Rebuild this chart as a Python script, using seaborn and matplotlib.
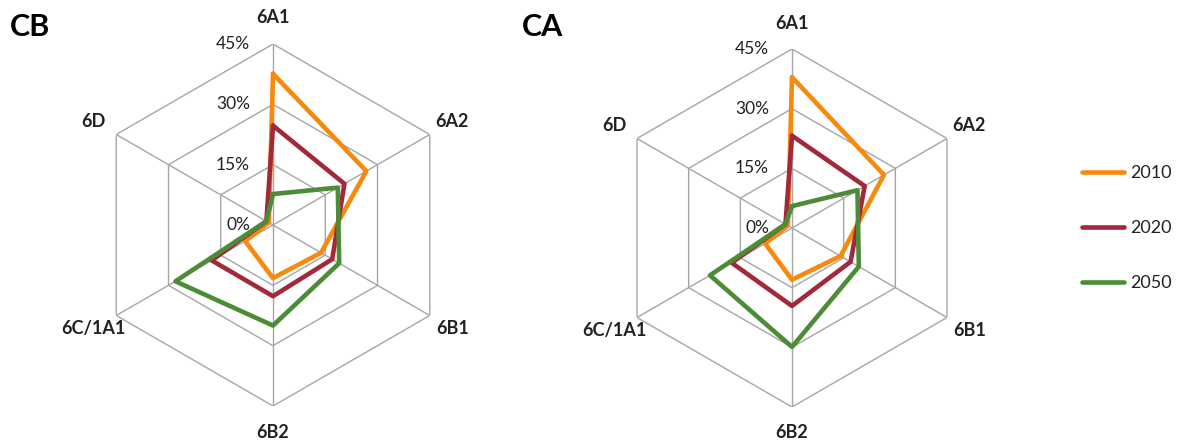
import numpy as np
import pandas as pd
import matplotlib
matplotlib.use('Agg')
import matplotlib.pyplot as plt
import matplotlib.transforms as mtransforms
import seaborn as sns

# ---------------- data ----------------
categories = ['6A1', '6A2', '6B1', '6B2', '6C/1A1', '6D']
years = ['2010', '2020', '2050']
cb_2010 = [37.6, 26.8, 13.8, 13.2, 8.0, 1.2]
cb_2020 = [24.7, 20.5, 17.0, 17.7, 17.6, 1.9]
cb_2050 = [7.7, 18.6, 19.0, 25.0, 28.0, 1.9]
ca_2010 = [37.9, 26.7, 14.1, 13.0, 7.8, 1.2]
ca_2020 = [23.2, 21.1, 17.0, 19.6, 17.5, 1.9]
ca_2050 = [5.5, 19.0, 19.4, 29.9, 23.8, 1.9]
r_ticks = [0, 15, 30, 45]
r_tick_labels = ['0%', '15%', '30%', '45%']
panel_titles = ['CB', 'CA']
colors = ['#F7890C', '#A3283A', '#4C8C37']

sns.set_theme(style='white')
plt.rcParams['font.family'] = ['Lato', 'DejaVu Sans']

fig = plt.figure(figsize=(11.8, 4.41), dpi=100)

n = len(categories)
angles = [2 * np.pi * i / n for i in range(n)]
angles_closed = angles + [2 * np.pi]


def make_df(series_list):
    rows = []
    for year, vals in zip(years, series_list):
        vals_closed = list(vals) + [vals[0]]
        for i, (a, v) in enumerate(zip(angles_closed, vals_closed)):
            rows.append({'year': year, 'theta': a, 'value': v, 'order': i})
    return pd.DataFrame(rows)


panels = [
    ([cb_2010, cb_2020, cb_2050], [92 / 1180, 35 / 441, 362 / 1180, 362 / 441], 10 / 1180),
    ([ca_2010, ca_2020, ca_2050], [613 / 1180, 34 / 441, 358 / 1180, 358 / 441], 522 / 1180),
]

grid_color = '#A6A6A6'
text_color = '#222222'
handles = labels = None

for idx, (series, rect, title_x) in enumerate(panels):
    ax = fig.add_axes(rect, projection='polar')
    ax.set_theta_offset(np.pi / 2)
    ax.set_theta_direction(-1)
    ax.grid(False)
    ax.spines['polar'].set_visible(False)

    # hexagonal grid rings
    for lvl in r_ticks[1:]:
        ax.plot(angles_closed, [lvl] * len(angles_closed), color=grid_color, lw=1.0, zorder=1)
    # spokes
    for a in angles:
        ax.plot([a, a], [0, r_ticks[-1]], color=grid_color, lw=1.0, zorder=1)

    df = make_df(series)
    sns.lineplot(data=df, x='theta', y='value', hue='year', hue_order=years,
                 palette=colors, sort=False, estimator=None, units='year',
                 linewidth=3.3, ax=ax, legend=(idx == 0), zorder=3)
    if idx == 0:
        handles, labels = ax.get_legend_handles_labels()
        ax.get_legend().remove()

    ax.set_ylim(0, r_ticks[-1])
    ax.set_xticks([])
    ax.set_yticks([])
    ax.set_xlabel('')
    ax.set_ylabel('')

    # radial tick labels
    off = mtransforms.offset_copy(ax.transData, fig=fig, x=-23, y=0, units='dots')
    for lvl, lab in zip(r_ticks, r_tick_labels):
        ax.text(0, lvl, lab, transform=off, ha='right', va='center',
                fontsize=12.5, color=text_color, clip_on=False)

    # category labels
    for a, cat in zip(angles, categories):
        ax.text(a, 51.5, cat, ha='center', va='center', fontsize=13,
                fontweight='bold', color=text_color, clip_on=False)

    fig.text(title_x, 1 - 27 / 441, panel_titles[idx], fontsize=22,
             fontweight='bold', ha='left', va='center', color='black')

leg = fig.legend(handles, labels, loc='center left',
                 bbox_to_anchor=(1082 / 1180, 1 - 228 / 441),
                 frameon=False, fontsize=13, handlelength=2.35,
                 handletextpad=0.3, labelspacing=2.15,
                 borderpad=0, borderaxespad=0)
for t in leg.get_texts():
    t.set_color(text_color)

fig.savefig('out.png', dpi=100)
